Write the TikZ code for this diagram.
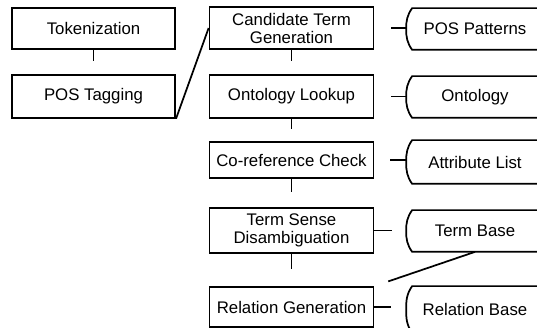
\documentclass[tikz,border=0pt]{standalone}
\usepackage{fontspec}
\setmainfont{Liberation Sans}
\begin{document}
\begin{tikzpicture}[x=0.75pt,y=-0.75pt,line width=1.3pt,
  proc/.style={draw,align=center,minimum width=122.5pt,inner sep=1pt,font=\fontsize{12.6}{13.5}\selectfont},
  store/.style={align=center,minimum width=93pt,inner sep=0pt,font=\fontsize{12.6}{13.5}\selectfont}]
  \clip (0,0) rectangle (537,328);
  % steps
  \node[proc,minimum height=30.5pt] (tok) at (93.5,28.5) {Tokenization};
  \node[proc,minimum height=32pt] (pos) at (93.5,96.5) {POS Tagging};
  \node[proc,minimum width=123pt,minimum height=31.5pt] (cand) at (291.5,28) {Candidate Term\\Generation};
  \node[proc,minimum width=123pt,minimum height=32pt] (onto) at (291.5,96.5) {Ontology Lookup};
  \node[proc,minimum width=123pt,minimum height=27pt] (coref) at (291.5,160) {Co-reference Check};
  \node[proc,minimum width=123pt,minimum height=34pt] (tsd) at (291.5,230.5) {Term Sense\\Disambiguation};
  \node[proc,minimum width=123pt,minimum height=30pt] (rg) at (291.5,307) {Relation Generation};
  % resources
  \node[store,minimum height=30pt] (pp) at (475,29) {POS Patterns};
  \node[store,minimum height=30pt] (ont) at (475,97) {Ontology};
  \node[store,minimum height=31.5pt] (attr) at (475,162) {Attribute List};
  \node[store,minimum height=30pt] (tb) at (475,231) {Term Base};
  \node[store,minimum height=33.75pt] (rb) at (475,309.5) {Relation Base};
  \foreach \s in {pp,ont,attr,tb,rb}
    \draw (\s.north east) -- (\s.north west) to[out=235,in=90] ([xshift=-4.5pt]\s.west)
      to[out=-90,in=125] (\s.south west) -- (\s.south east);
  % links
  \foreach \a/\b/\s in {tok/pos/10pt, cand/onto/10pt, onto/coref/9pt, coref/tsd/11pt, tsd/rg/12.5pt}
    \draw[shorten >=\s] (\a) -- (\b);
  \foreach \a/\b/\s/\t in {cand/pp/12.5pt/4.5pt, onto/ont/12.5pt/4.5pt, coref/attr/12pt/4.5pt, tsd/tb/0pt/15pt, rg/rb/0pt/15.75pt}
    \draw[shorten <=\s, shorten >=\t] (\a.east) -- (\a.east -| \b.west);
  \draw (pos.south east) -- (cand.west);
  \draw[shorten <=11pt] (rg.north east) -- (tb.south);
\end{tikzpicture}
\end{document}
